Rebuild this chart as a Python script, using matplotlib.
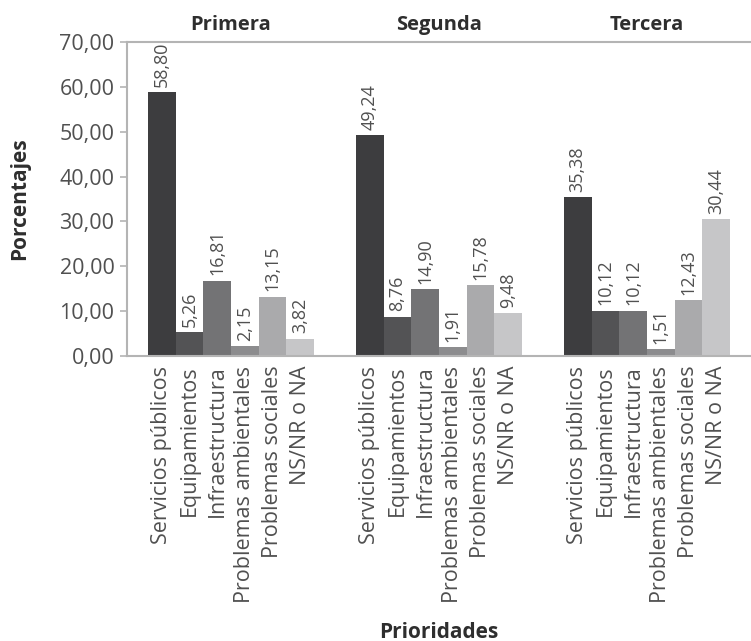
import numpy as np
import matplotlib.pyplot as plt

# ================================
# Data
# ================================
groups = ['Primera', 'Segunda', 'Tercera']
categories = ['Servicios públicos', 'Equipamientos', 'Infraestructura',
              'Problemas ambientales', 'Problemas sociales', 'NS/NR o NA']
primera = [58.80, 5.26, 16.81, 2.15, 13.15, 3.82]
segunda = [49.24, 8.76, 14.90, 1.91, 15.78, 9.48]
tercera = [35.38, 10.12, 10.12, 1.51, 12.43, 30.44]
yticks = [0, 10, 20, 30, 40, 50, 60, 70]

bar_colors = ['#3d3d3f', '#535355', '#737375', '#8c8c8e', '#aaaaac', '#c6c6c8']
spine_gray = '#b4b4b4'
text_gray = '#505050'

plt.rcParams['font.family'] = ['Open Sans', 'DejaVu Sans']

fig = plt.figure(figsize=(7.51, 6.41), dpi=100)
ax = fig.add_axes([127 / 751, 1 - 356 / 641, 624 / 751, (356 - 42) / 641])

series = [primera, segunda, tercera]
gap = 1.5
n = len(categories)
xpos = []
xlab = []
for g, vals in enumerate(series):
    x = np.arange(n) + g * (n + gap)
    ax.bar(x, vals, width=1.0, color=bar_colors, align='edge', linewidth=0)
    for xi, v in zip(x, vals):
        ax.annotate(f'{v:.2f}'.replace('.', ','), (xi + 0.5, v),
                    xytext=(0, 4), textcoords='offset points',
                    rotation=90, ha='center', va='bottom',
                    fontsize=13, color=text_gray)
    ax.text(x[0] + n / 2, 73.8, groups[g], ha='center', va='center',
            fontsize=14.5, fontweight='bold', color='#2e2e2e')
    xpos.extend(list(x + 0.5))
    xlab.extend(categories)

ax.set_xlim(-0.75, 2 * (n + gap) + n + 0.75)
ax.set_ylim(0, 70)
ax.set_yticks(yticks)
ax.set_yticklabels([f'{t:.2f}'.replace('.', ',') for t in yticks],
                   fontsize=15.5, color=text_gray)
ax.set_xticks(xpos)
ax.set_xticklabels(xlab, rotation=90, fontsize=15.5, color=text_gray)
ax.tick_params(axis='x', length=0, pad=7)
ax.tick_params(axis='y', length=5, color=spine_gray, width=1.2, pad=4)

for s in ['left', 'top', 'bottom']:
    ax.spines[s].set_color(spine_gray)
    ax.spines[s].set_linewidth(1.5)
ax.spines['right'].set_visible(False)

ax.set_ylabel('Porcentajes', fontsize=15, fontweight='bold', color='#2e2e2e')
ax.yaxis.set_label_coords(-0.155, 0.5)
fig.text(439 / 751, 1 - 632 / 641, 'Prioridades', ha='center', va='center',
         fontsize=15, fontweight='bold', color='#2e2e2e')

fig.savefig('out.png', dpi=100)
